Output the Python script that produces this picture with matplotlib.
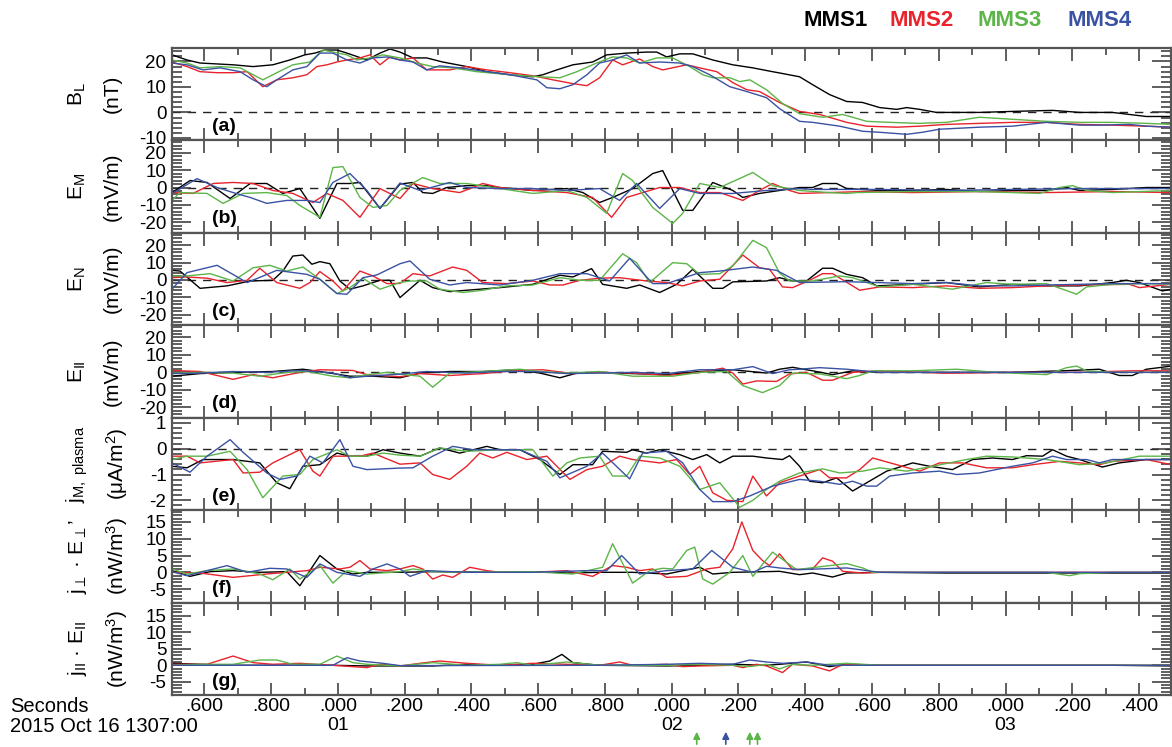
import matplotlib.pyplot as plt
import matplotlib.ticker as ticker
from matplotlib.transforms import blended_transform_factory

plt.rcParams['font.family'] = ['Liberation Sans', 'DejaVu Sans']
plt.rcParams['mathtext.fontset'] = 'custom'
plt.rcParams['mathtext.rm'] = 'Liberation Sans'
plt.rcParams['mathtext.it'] = 'Liberation Sans:italic'
plt.rcParams['mathtext.bf'] = 'Liberation Sans:bold'
plt.rcParams['axes.unicode_minus'] = False

#------------------------------------------------------------------------------
# SPACECRAFT
craft  = ['MMS1', 'MMS2', 'MMS3', 'MMS4']
colors = ['#000000', '#e8232b', '#5cb548', '#3a52a3']

#------------------------------------------------------------------------------
# OBSERVATIONS (time in seconds after 2015 Oct 16 13:07:00)

# (a) B_L (nT)
bl_t1 = [0.503, 0.548, 0.587, 0.686, 0.746, 0.805, 0.856, 0.901, 0.931, 0.961, 0.997, 1.027, 1.087, 1.126, 1.156, 1.186, 1.225, 1.266, 1.314, 1.386, 1.446, 1.515, 1.584, 1.614, 1.656, 1.704, 1.763, 1.805, 1.865, 1.925, 1.955, 1.985, 2.024, 2.063, 2.123, 2.183, 2.243, 2.302, 2.323, 2.383, 2.422, 2.473, 2.524, 2.572, 2.623, 2.674, 2.704, 2.743, 2.793, 2.922, 3.021, 3.141, 3.222, 3.320, 3.422, 3.497]
bl_v1 = [22.6, 20.6, 19.4, 18.7, 18.0, 18.7, 20.6, 22.6, 23.3, 24.5, 24.5, 23.3, 20.6, 23.3, 24.9, 23.7, 21.4, 21.4, 19.8, 18.0, 16.0, 14.8, 14.0, 14.8, 16.7, 18.7, 19.8, 22.6, 23.3, 23.7, 23.7, 21.8, 23.0, 23.0, 20.6, 18.7, 17.5, 16.0, 15.5, 14.0, 10.9, 7.0, 4.3, 3.9, 1.9, 1.2, 1.9, 1.2, 0.0, 0.0, 0.4, 0.8, 0.0, 0.0, -1.6, -1.6]
bl_t2 = [0.503, 0.548, 0.587, 0.638, 0.686, 0.728, 0.775, 0.817, 0.865, 0.907, 0.937, 0.967, 0.997, 1.027, 1.066, 1.096, 1.126, 1.156, 1.186, 1.225, 1.266, 1.335, 1.386, 1.446, 1.515, 1.584, 1.644, 1.704, 1.746, 1.784, 1.823, 1.853, 1.904, 1.943, 1.973, 2.045, 2.084, 2.135, 2.183, 2.225, 2.263, 2.323, 2.383, 2.443, 2.524, 2.584, 2.674, 2.743, 2.823, 2.922, 3.021, 3.123, 3.222, 3.320, 3.422, 3.497]
bl_v2 = [19.8, 18.0, 16.0, 15.6, 15.6, 16.0, 10.1, 12.8, 13.6, 14.8, 18.0, 18.7, 19.8, 20.6, 21.4, 22.6, 18.7, 21.8, 20.6, 21.4, 16.7, 16.7, 18.0, 16.7, 15.6, 14.4, 12.8, 11.3, 10.5, 13.6, 20.6, 18.7, 21.0, 18.0, 16.7, 18.7, 17.5, 16.0, 11.7, 8.9, 8.2, 3.9, 0.4, -0.8, -3.9, -5.4, -5.8, -5.4, -4.7, -4.3, -3.9, -3.9, -4.7, -5.0, -5.4, -5.8]
bl_t3 = [0.503, 0.548, 0.587, 0.647, 0.707, 0.775, 0.817, 0.865, 0.916, 0.955, 0.985, 1.027, 1.057, 1.096, 1.135, 1.186, 1.237, 1.284, 1.344, 1.416, 1.515, 1.605, 1.665, 1.716, 1.775, 1.823, 1.865, 1.904, 1.955, 2.003, 2.054, 2.093, 2.123, 2.174, 2.204, 2.234, 2.284, 2.332, 2.383, 2.452, 2.512, 2.542, 2.584, 2.653, 2.743, 2.823, 2.922, 3.021, 3.123, 3.222, 3.320, 3.422, 3.497]
bl_v3 = [20.6, 19.4, 17.5, 18.0, 17.5, 12.8, 15.6, 18.7, 19.8, 24.5, 23.7, 22.6, 20.6, 21.4, 22.6, 21.4, 19.4, 18.0, 17.5, 16.0, 14.8, 14.0, 13.6, 16.0, 19.4, 21.8, 21.4, 19.4, 21.4, 21.4, 18.0, 14.8, 13.6, 13.6, 12.1, 12.8, 8.9, 3.5, -0.5, -1.9, -0.8, -1.9, -3.5, -3.9, -4.3, -3.9, -1.9, -2.7, -3.5, -3.9, -3.9, -4.3, -4.7]
bl_t4 = [0.503, 0.548, 0.596, 0.647, 0.707, 0.746, 0.787, 0.817, 0.865, 0.907, 0.946, 0.985, 1.027, 1.066, 1.105, 1.147, 1.186, 1.225, 1.266, 1.305, 1.365, 1.446, 1.515, 1.596, 1.626, 1.665, 1.704, 1.746, 1.784, 1.823, 1.865, 1.904, 1.964, 2.024, 2.063, 2.114, 2.174, 2.225, 2.284, 2.323, 2.383, 2.422, 2.503, 2.572, 2.623, 2.704, 2.751, 2.802, 2.922, 3.021, 3.123, 3.222, 3.281, 3.371, 3.422, 3.497]
bl_v4 = [19.4, 18.7, 16.7, 17.5, 16.0, 12.8, 10.1, 12.8, 16.7, 18.0, 23.3, 23.3, 20.6, 19.4, 21.4, 21.8, 20.6, 19.8, 16.7, 18.3, 17.5, 16.0, 14.8, 12.8, 9.7, 9.3, 10.9, 14.8, 19.4, 20.6, 22.6, 19.4, 19.8, 19.4, 18.0, 14.8, 10.1, 8.2, 5.8, 1.5, -3.5, -3.9, -5.4, -7.4, -7.8, -8.6, -7.8, -6.6, -5.8, -5.4, -3.9, -5.0, -5.0, -4.7, -5.4, -5.8]

# (b) E_M (mV/m)
em_t1 = [0.503, 0.557, 0.608, 0.677, 0.737, 0.787, 0.835, 0.886, 0.946, 0.997, 1.036, 1.066, 1.126, 1.186, 1.225, 1.254, 1.284, 1.326, 1.386, 1.446, 1.485, 1.584, 1.686, 1.734, 1.784, 1.823, 1.883, 1.943, 1.973, 2.033, 2.063, 2.123, 2.183, 2.213, 2.263, 2.323, 2.383, 2.422, 2.452, 2.494, 2.524, 2.623, 2.722, 2.823, 2.922, 3.021, 3.123, 3.183, 3.222, 3.320, 3.422, 3.497]
em_v1 = [-2.9, 4.0, 2.9, -6.3, 2.3, 2.3, -3.4, -0.6, -17.7, 2.3, 2.3, 2.9, -12.0, 2.0, 2.9, -2.9, -3.4, 0.0, 1.1, 1.1, 0.0, -1.7, -0.6, -2.9, -8.6, -5.7, -0.6, 8.0, 9.7, -13.1, -13.1, 2.9, -1.7, -5.7, -3.4, -1.7, 0.0, 0.0, 2.3, 2.3, -0.6, -1.7, -1.7, -1.1, -2.3, -1.7, -1.7, 0.0, -1.7, -1.1, 0.0, 0.0]
em_t2 = [0.503, 0.566, 0.626, 0.686, 0.746, 0.805, 0.865, 0.925, 0.967, 1.015, 1.066, 1.126, 1.186, 1.225, 1.284, 1.365, 1.434, 1.485, 1.584, 1.686, 1.763, 1.820, 1.865, 1.913, 1.964, 2.024, 2.084, 2.144, 2.213, 2.263, 2.302, 2.353, 2.383, 2.473, 2.572, 2.722, 2.922, 3.123, 3.320, 3.497]
em_v2 = [-2.9, -3.4, 2.3, 2.9, 2.3, -1.7, -3.4, -8.6, -3.4, -7.4, -17.1, -0.6, -6.3, 2.3, -0.6, -2.9, 2.3, 0.0, -1.7, -2.9, -5.7, -17.1, -5.7, -2.9, 0.0, 0.0, -2.9, -2.9, -7.4, -1.7, 2.3, -1.7, -3.4, -2.9, -2.3, -2.9, -2.3, -2.9, -2.3, -2.9]
em_t3 = [0.503, 0.527, 0.608, 0.656, 0.716, 0.787, 0.847, 0.886, 0.946, 0.985, 1.015, 1.066, 1.105, 1.147, 1.186, 1.254, 1.305, 1.386, 1.485, 1.584, 1.686, 1.746, 1.805, 1.853, 1.883, 1.943, 2.003, 2.033, 2.084, 2.144, 2.243, 2.302, 2.383, 2.473, 2.524, 2.554, 2.722, 2.922, 3.102, 3.162, 3.201, 3.243, 3.320, 3.497]
em_v3 = [-7.4, -2.9, -3.4, -9.1, -3.4, -2.9, -4.6, -10.3, -17.1, 11.4, 12.0, -5.7, -11.4, -10.3, -1.7, 5.7, 2.3, 2.3, -0.6, -3.4, -1.7, -5.7, -14.8, 8.0, 4.0, -11.4, -20.6, -14.8, 2.3, 0.0, 8.6, 1.1, -1.7, -2.9, -3.4, -2.9, -2.3, -2.3, -3.4, 0.0, 1.1, -1.7, -2.9, -1.7]
em_t4 = [0.503, 0.578, 0.638, 0.686, 0.737, 0.787, 0.847, 0.907, 0.946, 0.985, 1.036, 1.087, 1.126, 1.186, 1.246, 1.335, 1.386, 1.485, 1.584, 1.686, 1.784, 1.844, 1.895, 1.964, 2.024, 2.084, 2.183, 2.284, 2.383, 2.422, 2.623, 2.823, 3.021, 3.222, 3.497]
em_v4 = [-3.4, 5.1, 0.0, -2.9, -5.7, -9.1, -7.4, -7.4, -8.6, 2.9, 8.0, -1.7, -12.0, 2.6, -1.7, 2.9, 0.0, -0.6, -0.6, -1.7, -0.6, -7.4, 2.3, -12.0, -0.6, -3.4, -3.4, -1.7, -0.6, -1.1, -1.1, -1.7, -1.1, -0.6, -0.6]

# (c) E_N (mV/m)
en_t1 = [0.503, 0.527, 0.587, 0.668, 0.737, 0.805, 0.835, 0.865, 0.895, 0.922, 0.946, 0.976, 1.006, 1.036, 1.075, 1.126, 1.156, 1.186, 1.246, 1.284, 1.335, 1.386, 1.485, 1.584, 1.665, 1.704, 1.760, 1.793, 1.865, 1.904, 1.964, 2.015, 2.063, 2.123, 2.153, 2.183, 2.284, 2.323, 2.362, 2.404, 2.452, 2.482, 2.524, 2.572, 2.614, 2.722, 2.823, 2.922, 3.021, 3.123, 3.222, 3.320, 3.362, 3.401, 3.470, 3.497]
en_v1 = [5.5, 5.1, -4.8, -3.4, -0.6, -0.2, 5.1, 13.7, 14.3, 9.0, 10.5, 9.3, -0.6, -5.3, -3.4, -0.2, -0.2, -10.1, -0.2, -4.4, -6.7, -5.9, -4.4, -2.5, 2.7, 1.7, 6.5, -2.5, -4.8, -2.9, -7.2, -2.5, 6.1, -4.8, -4.8, -1.1, -0.6, 1.3, -0.6, -0.6, 6.7, 6.7, 3.2, 1.3, -3.4, -2.5, -1.5, -4.0, -2.5, -3.4, -3.4, -1.5, -0.2, -1.5, -6.3, -5.3]
en_t2 = [0.503, 0.548, 0.608, 0.668, 0.728, 0.766, 0.817, 0.886, 0.916, 0.946, 0.985, 1.015, 1.066, 1.105, 1.147, 1.186, 1.225, 1.275, 1.344, 1.386, 1.434, 1.506, 1.584, 1.635, 1.674, 1.725, 1.784, 1.844, 1.925, 1.985, 2.033, 2.084, 2.144, 2.213, 2.263, 2.293, 2.332, 2.362, 2.413, 2.452, 2.482, 2.563, 2.623, 2.722, 2.823, 2.922, 3.021, 3.123, 3.222, 3.371, 3.401, 3.497]
en_v2 = [1.3, 1.7, 1.0, -1.5, -0.2, 6.7, -1.5, -4.8, -1.5, 4.8, -0.6, -6.3, 5.1, 2.3, -2.1, -2.0, 3.6, 2.3, 7.4, 5.5, -1.5, -2.1, -0.6, -2.9, -2.9, -0.2, 1.0, 1.3, -0.6, -1.5, -3.4, -0.6, 0.4, 14.3, 7.0, 6.1, -4.0, -4.4, -0.2, 3.6, 3.6, -5.9, -4.0, -4.4, -3.4, -4.8, -4.4, -3.4, -2.9, -2.5, -4.4, -2.5]
en_t3 = [0.503, 0.548, 0.617, 0.686, 0.746, 0.796, 0.847, 0.895, 0.946, 0.997, 1.036, 1.075, 1.126, 1.186, 1.216, 1.266, 1.305, 1.374, 1.434, 1.506, 1.584, 1.665, 1.725, 1.784, 1.853, 1.895, 1.934, 2.003, 2.045, 2.084, 2.144, 2.183, 2.243, 2.284, 2.323, 2.353, 2.422, 2.503, 2.542, 2.623, 2.722, 2.841, 2.943, 3.021, 3.123, 3.171, 3.213, 3.243, 3.320, 3.422, 3.497]
en_v3 = [2.3, 2.3, 3.6, -0.6, 7.0, 8.4, 5.1, 7.4, 0.4, -7.8, -4.4, 1.0, -5.3, -1.5, -0.6, -0.6, -5.3, -7.2, -5.9, -3.4, -2.9, 1.3, -0.2, -0.2, 15.0, 9.9, -1.5, 9.9, 9.3, 3.2, 3.6, 8.0, 22.7, 18.5, 4.0, -0.6, -0.6, 2.3, 1.3, -4.0, -2.5, -5.3, -1.5, -2.5, -2.1, -5.3, -8.2, -4.0, -2.5, -2.1, -2.5]
en_t4 = [0.503, 0.548, 0.638, 0.728, 0.817, 0.907, 0.946, 0.997, 1.027, 1.075, 1.117, 1.186, 1.216, 1.275, 1.335, 1.386, 1.485, 1.584, 1.665, 1.746, 1.814, 1.874, 1.943, 1.985, 2.084, 2.144, 2.243, 2.314, 2.383, 2.524, 2.722, 2.823, 2.922, 3.021, 3.123, 3.222, 3.320, 3.497]
en_v4 = [-5.3, 4.2, 8.4, -1.5, 5.5, 3.2, 0.4, -7.8, -8.2, 1.3, 2.9, 9.3, 10.9, 0.4, -2.9, -1.5, -2.9, -0.2, 3.6, 3.6, -0.6, 12.4, -2.1, -2.1, 4.2, 5.1, 7.4, 5.5, -1.5, -1.0, -2.1, -1.5, -3.4, -3.4, -2.9, -2.5, -2.1, -2.1]

# (d) E_par (mV/m)
ep_t1 = [0.503, 0.587, 0.686, 0.805, 0.895, 0.946, 1.036, 1.105, 1.186, 1.246, 1.335, 1.434, 1.536, 1.605, 1.665, 1.716, 1.784, 1.883, 1.985, 2.084, 2.183, 2.284, 2.323, 2.362, 2.422, 2.482, 2.542, 2.623, 2.823, 3.021, 3.171, 3.222, 3.281, 3.341, 3.380, 3.422, 3.497]
ep_v1 = [-2.2, -0.7, 0.0, 0.5, 1.8, 0.5, -2.2, -2.2, -3.1, -0.4, 0.5, 0.5, 1.5, -0.4, -3.1, -0.4, 0.0, -0.7, -1.3, 0.5, 1.5, -0.4, 1.8, 2.9, 0.9, -1.3, 0.9, 0.0, 0.0, 0.0, 0.9, 1.3, 1.8, -1.8, -1.8, 1.8, 3.6]
ep_t2 = [0.503, 0.587, 0.647, 0.686, 0.746, 0.805, 0.886, 0.946, 1.045, 1.087, 1.186, 1.246, 1.335, 1.434, 1.536, 1.614, 1.704, 1.784, 1.883, 1.985, 2.084, 2.153, 2.183, 2.213, 2.254, 2.314, 2.353, 2.404, 2.452, 2.482, 2.542, 2.623, 2.823, 3.021, 3.222, 3.380, 3.497]
ep_v2 = [1.1, 0.5, -2.2, -4.0, -1.3, -3.1, 0.0, 1.5, 1.1, -1.3, -2.5, -0.7, -1.8, -0.7, 1.1, 1.5, -0.7, 0.0, -0.4, -1.8, 0.0, 2.4, -0.4, -6.7, -4.9, -5.2, -0.9, 0.0, -4.5, -4.5, 0.0, 0.9, -0.5, 0.0, 0.0, 0.9, 0.9]
ep_t3 = [0.503, 0.587, 0.686, 0.766, 0.847, 0.907, 0.985, 1.036, 1.087, 1.147, 1.186, 1.246, 1.284, 1.335, 1.434, 1.545, 1.605, 1.686, 1.784, 1.883, 2.003, 2.084, 2.165, 2.213, 2.272, 2.323, 2.362, 2.443, 2.524, 2.563, 2.602, 2.722, 2.853, 2.973, 3.123, 3.183, 3.213, 3.243, 3.320, 3.497]
ep_v3 = [-0.4, 0.0, -0.4, -2.2, 0.0, 0.5, -2.2, -3.1, -1.3, 0.0, -1.0, -2.2, -8.5, -0.4, 0.5, 1.8, 0.5, -0.4, 0.5, -2.2, -2.2, 0.0, 0.5, -7.6, -11.6, -7.6, -0.4, -0.9, -3.6, -1.8, 0.9, 0.9, 1.8, 0.0, -1.3, 2.7, 3.6, 0.9, 0.0, 0.0]
ep_t4 = [0.503, 0.587, 0.686, 0.787, 0.886, 0.985, 1.036, 1.087, 1.186, 1.266, 1.386, 1.485, 1.584, 1.686, 1.784, 1.883, 1.985, 2.084, 2.183, 2.243, 2.302, 2.353, 2.383, 2.443, 2.524, 2.623, 2.823, 3.021, 3.222, 3.497]
ep_v4 = [-0.7, -0.4, 0.5, 0.0, 1.1, -0.4, -3.1, -2.2, -1.0, 0.5, -0.4, 0.5, 0.5, -0.7, -0.4, 0.0, -0.7, 1.5, 1.5, 3.3, -0.7, 1.5, 1.8, 2.7, 1.8, 0.0, 0.0, 0.0, 0.0, 0.0]

# (e) j_M,plasma (uA/m^2)
jm_t1 = [0.503, 0.548, 0.596, 0.686, 0.766, 0.817, 0.856, 0.895, 0.946, 0.997, 1.036, 1.087, 1.135, 1.186, 1.246, 1.305, 1.365, 1.446, 1.485, 1.545, 1.605, 1.665, 1.704, 1.763, 1.793, 1.865, 1.883, 1.925, 1.964, 2.024, 2.063, 2.105, 2.144, 2.183, 2.243, 2.284, 2.332, 2.353, 2.383, 2.413, 2.452, 2.494, 2.542, 2.584, 2.644, 2.722, 2.772, 2.841, 2.901, 2.961, 3.021, 3.063, 3.111, 3.141, 3.183, 3.222, 3.290, 3.341, 3.422, 3.497]
jm_v1 = [-0.68, -0.74, -0.42, -0.42, -0.55, -1.32, -1.55, -0.68, -0.62, -0.17, -0.29, -0.29, -0.04, -0.17, -0.29, 0.03, -0.17, 0.09, -0.04, -0.04, -0.42, -1.0, -0.62, -0.62, -0.10, -0.14, -0.04, -0.17, -0.04, -0.23, -0.42, -0.23, -0.55, -0.29, -0.29, -0.36, -0.42, -0.27, -0.68, -1.26, -1.32, -1.13, -1.64, -1.32, -0.87, -0.55, -0.68, -0.81, -0.42, -0.36, -0.42, -0.27, -0.29, -0.04, -0.29, -0.42, -0.71, -0.55, -0.42, -0.42]
jm_t2 = [0.503, 0.548, 0.587, 0.686, 0.716, 0.766, 0.805, 0.886, 0.925, 0.946, 0.985, 1.066, 1.105, 1.186, 1.246, 1.284, 1.335, 1.386, 1.425, 1.464, 1.506, 1.566, 1.626, 1.695, 1.746, 1.793, 1.844, 1.883, 1.964, 2.015, 2.054, 2.084, 2.123, 2.165, 2.213, 2.243, 2.284, 2.323, 2.383, 2.443, 2.473, 2.524, 2.563, 2.602, 2.674, 2.743, 2.802, 2.871, 2.943, 3.021, 3.081, 3.162, 3.222, 3.281, 3.320, 3.422, 3.497]
jm_v2 = [-0.29, -0.29, -0.55, -0.42, -0.94, -0.91, -0.55, -0.04, -0.87, -1.06, -0.29, -0.29, -0.17, -0.6, -0.55, -1.0, -1.19, -0.68, -0.17, -0.36, -0.14, -0.42, -0.29, -1.19, -0.81, -0.68, -0.29, -0.42, -0.55, -0.42, -1.0, -0.68, -1.71, -2.0, -2.05, -1.06, -1.83, -1.32, -1.06, -0.81, -1.13, -1.13, -0.81, -0.36, -0.62, -0.87, -0.55, -0.55, -0.74, -0.74, -0.62, -0.49, -0.55, -0.62, -0.49, -0.42, -0.62]
jm_t3 = [0.503, 0.548, 0.608, 0.677, 0.728, 0.775, 0.835, 0.886, 0.925, 0.997, 1.036, 1.087, 1.135, 1.186, 1.246, 1.305, 1.386, 1.485, 1.584, 1.644, 1.686, 1.725, 1.784, 1.823, 1.865, 1.904, 1.964, 2.024, 2.084, 2.144, 2.204, 2.243, 2.284, 2.323, 2.383, 2.452, 2.503, 2.572, 2.623, 2.704, 2.781, 2.883, 2.943, 3.021, 3.123, 3.222, 3.302, 3.401, 3.497]
jm_v3 = [-0.42, -0.29, -0.29, -0.10, -0.81, -1.9, -1.06, -1.0, -0.42, -0.04, -0.29, -0.29, -0.17, -0.25, -0.29, 0.03, -0.10, -0.04, -0.04, -1.06, -0.55, -0.36, -0.29, -1.06, -1.06, -0.29, -0.36, -0.68, -1.58, -1.32, -2.27, -2.0, -1.58, -1.26, -0.94, -0.78, -0.94, -0.87, -0.74, -0.87, -0.68, -0.42, -0.29, -0.32, -0.42, -0.62, -0.55, -0.29, -0.29]
jm_t4 = [0.503, 0.557, 0.608, 0.677, 0.716, 0.787, 0.826, 0.877, 0.916, 0.955, 1.006, 1.045, 1.087, 1.186, 1.225, 1.284, 1.344, 1.404, 1.464, 1.545, 1.626, 1.665, 1.746, 1.793, 1.874, 1.913, 1.985, 2.033, 2.084, 2.123, 2.183, 2.234, 2.302, 2.383, 2.443, 2.503, 2.542, 2.584, 2.614, 2.653, 2.722, 2.802, 2.853, 2.922, 3.021, 3.081, 3.141, 3.183, 3.243, 3.281, 3.320, 3.422, 3.497]
jm_v4 = [-0.55, -0.91, -0.29, 0.35, -0.14, -0.94, -1.19, -1.06, -0.29, -0.55, 0.35, -0.68, -0.81, -0.75, -0.74, -0.29, 0.09, -0.04, -0.04, -0.04, -0.49, -1.13, -0.68, -0.17, -1.17, -0.17, -0.10, -0.55, -1.58, -2.05, -2.05, -1.83, -1.45, -1.19, -1.26, -1.38, -1.26, -1.45, -1.45, -1.06, -0.94, -0.87, -1.0, -0.94, -0.68, -0.55, -0.29, -0.42, -0.42, -0.55, -0.42, -0.42, -0.42]

# (f) j_perp . E_perp' (nW/m^3)
jep_t1 = [0.503, 0.557, 0.617, 0.686, 0.766, 0.847, 0.886, 0.946, 0.997, 1.045, 1.087, 1.186, 1.284, 1.485, 1.605, 1.686, 1.784, 1.883, 1.985, 2.084, 2.123, 2.183, 2.284, 2.323, 2.383, 2.422, 2.482, 2.524, 2.623, 2.823, 3.021, 3.497]
jep_v1 = [0.5, -1.2, 0.2, 0.5, 0.0, 0.2, -4.0, 5.0, 1.0, -0.5, 0.0, 0.0, 0.2, 0.0, 0.2, -0.2, 0.0, 0.0, -0.5, 1.5, -0.5, 0.0, 0.2, 0.3, -0.7, -0.2, -1.4, -0.2, 0.0, -0.2, -0.2, -0.2]
jep_t2 = [0.503, 0.587, 0.686, 0.787, 0.847, 0.907, 0.946, 1.006, 1.036, 1.066, 1.096, 1.147, 1.186, 1.225, 1.254, 1.284, 1.314, 1.344, 1.395, 1.446, 1.485, 1.584, 1.686, 1.763, 1.823, 1.865, 1.904, 1.943, 1.985, 2.045, 2.105, 2.144, 2.183, 2.210, 2.243, 2.272, 2.293, 2.323, 2.362, 2.422, 2.452, 2.482, 2.512, 2.572, 2.623, 3.497]
jep_v2 = [0.0, -0.2, -1.5, -0.5, 0.0, 0.5, 1.5, 1.0, 1.5, 3.5, 1.0, 0.5, 1.0, 2.0, 1.0, -2.0, -0.8, -1.5, 1.5, 0.5, 0.0, 0.0, 0.5, -1.2, 2.0, 1.5, 0.5, 1.0, -1.5, -1.2, 1.0, 1.5, 7.0, 15.0, 6.5, 3.5, 2.0, 5.5, 0.8, 1.0, 4.3, 3.3, 0.3, -0.2, 0.0, 0.0]
jep_t3 = [0.503, 0.548, 0.608, 0.686, 0.766, 0.805, 0.856, 0.886, 0.946, 0.985, 1.027, 1.087, 1.186, 1.225, 1.284, 1.386, 1.584, 1.704, 1.793, 1.823, 1.883, 1.934, 1.973, 2.003, 2.045, 2.069, 2.093, 2.123, 2.174, 2.213, 2.243, 2.302, 2.344, 2.374, 2.473, 2.524, 2.572, 2.602, 2.722, 3.123, 3.192, 3.222, 3.320, 3.497]
jep_v3 = [1.0, -0.5, 0.5, 1.0, -0.5, -2.2, 1.0, -2.0, 2.0, -3.2, 0.5, -0.5, 0.2, 1.0, 0.2, 0.0, 0.2, -0.5, 1.5, 8.5, -3.2, 0.5, 1.2, 1.0, 6.5, 7.5, -2.0, -3.5, 0.0, 5.0, -1.2, 6.0, 3.0, 0.8, 2.0, 2.6, 1.3, 0.0, 0.0, 0.0, -1.0, -0.4, 0.0, 0.0]
jep_t4 = [0.503, 0.548, 0.608, 0.668, 0.728, 0.796, 0.847, 0.907, 0.946, 0.997, 1.066, 1.105, 1.147, 1.186, 1.216, 1.266, 1.386, 1.584, 1.746, 1.805, 1.850, 1.904, 1.985, 2.063, 2.120, 2.183, 2.243, 2.284, 2.323, 2.383, 2.524, 2.623, 3.497]
jep_v4 = [0.2, -1.0, 0.5, 2.0, 0.0, 1.2, 1.0, -1.5, 2.5, 0.0, -1.2, 1.0, 2.5, 1.0, -1.2, 0.5, 0.0, 0.0, 0.5, 0.5, 5.0, -0.5, 0.5, 1.0, 6.5, 1.5, 0.0, 1.8, 1.3, 0.8, 1.3, 0.0, 0.0]

# (g) j_par . E_par (nW/m^3)
jeb_t1 = [0.503, 0.587, 0.686, 0.985, 1.087, 1.186, 1.284, 1.386, 1.485, 1.584, 1.635, 1.671, 1.704, 1.784, 1.985, 2.084, 2.183, 2.284, 2.323, 2.404, 2.473, 2.524, 2.623, 3.320, 3.497]
jeb_v1 = [0.6, 0.3, 0.0, 0.0, -0.2, -0.2, -0.2, 0.3, 0.0, 0.3, 1.3, 3.3, 0.8, 0.0, -0.2, 0.0, 0.3, 0.0, 0.3, 1.0, -0.4, 0.3, 0.0, 0.0, -0.2]
jeb_t2 = [0.503, 0.608, 0.686, 0.746, 0.805, 0.886, 0.985, 1.087, 1.126, 1.186, 1.246, 1.305, 1.386, 1.485, 1.584, 1.686, 1.784, 1.844, 1.883, 1.985, 2.033, 2.084, 2.183, 2.213, 2.254, 2.284, 2.332, 2.362, 2.422, 2.473, 2.503, 2.524, 2.623, 3.497]
jeb_v2 = [0.3, 0.3, 2.8, 0.8, 0.3, 0.6, 0.0, -0.7, 0.3, -0.2, 0.6, 1.3, 0.6, 0.0, 0.6, 0.3, 0.0, 1.0, 0.0, 0.3, -0.4, -0.2, 0.0, -0.7, 0.3, -0.2, -2.2, 0.3, -0.2, -1.7, -0.2, 0.3, 0.0, 0.0]
jeb_t3 = [0.503, 0.587, 0.686, 0.766, 0.817, 0.865, 0.946, 0.997, 1.045, 1.087, 1.186, 1.284, 1.386, 1.485, 1.536, 1.584, 1.686, 1.784, 1.985, 2.084, 2.183, 2.234, 2.284, 2.323, 2.362, 2.422, 2.524, 2.623, 3.497]
jeb_v3 = [0.0, 0.3, 0.3, 1.6, 1.6, 0.3, 0.3, 2.8, 0.8, 0.3, -0.2, 0.8, 0.0, 0.3, 0.8, 0.0, 1.0, 0.0, 0.0, 0.3, 0.0, -0.4, 0.3, -1.1, 0.3, 0.0, 0.6, 0.0, 0.0]
jeb_t4 = [0.503, 0.985, 1.027, 1.066, 1.135, 1.186, 1.784, 1.985, 2.084, 2.183, 2.234, 2.284, 2.332, 2.404, 2.473, 2.623, 3.497]
jeb_v4 = [0.0, 0.0, 2.3, 1.3, 0.6, -0.1, 0.0, 0.3, 0.6, 0.3, 1.6, 1.0, 0.6, 1.0, 0.0, 0.0, 0.0]

# arrows under the time axis
arrow_t = [2.075, 2.162, 2.234, 2.257]
arrow_c = [colors[2], colors[3], colors[2], colors[2]]

#------------------------------------------------------------------------------
# PANEL SET-UP: (quantity, unit, tag, ylim, major ticks, minor step, zero line, series)
panels = [
    ('B$_\\mathrm{L}$', '(nT)', '(a)', (-11, 25.3), [-10, 0, 10, 20], 2, True,
     [(bl_t1, bl_v1), (bl_t2, bl_v2), (bl_t3, bl_v3), (bl_t4, bl_v4)]),
    ('E$_\\mathrm{M}$', '(mV/m)', '(b)', (-26, 27), [-20, -10, 0, 10, 20], 2, True,
     [(em_t1, em_v1), (em_t2, em_v2), (em_t3, em_v3), (em_t4, em_v4)]),
    ('E$_\\mathrm{N}$', '(mV/m)', '(c)', (-26, 27), [-20, -10, 0, 10, 20], 2, True,
     [(en_t1, en_v1), (en_t2, en_v2), (en_t3, en_v3), (en_t4, en_v4)]),
    ('E$_\\mathrm{II}$', '(mV/m)', '(d)', (-26, 27), [-20, -10, 0, 10, 20], 2, True,
     [(ep_t1, ep_v1), (ep_t2, ep_v2), (ep_t3, ep_v3), (ep_t4, ep_v4)]),
    ('j$_\\mathrm{M,\\ plasma}$', '(\u03bcA/m$^2$)', '(e)', (-2.38, 1.2), [-2, -1, 0, 1], 0.2, True,
     [(jm_t1, jm_v1), (jm_t2, jm_v2), (jm_t3, jm_v3), (jm_t4, jm_v4)]),
    ('j$_\\perp$ \u00b7 E$_\\perp$\u2019', '(nW/m$^3$)', '(f)', (-9, 18.5), [-5, 0, 5, 10, 15], 1, False,
     [(jep_t1, jep_v1), (jep_t2, jep_v2), (jep_t3, jep_v3), (jep_t4, jep_v4)]),
    ('j$_\\mathrm{II}$ \u00b7 E$_\\mathrm{II}$', '(nW/m$^3$)', '(g)', (-9, 19), [-5, 0, 5, 10, 15], 1, False,
     [(jeb_t1, jeb_v1), (jeb_t2, jeb_v2), (jeb_t3, jeb_v3), (jeb_t4, jeb_v4)]),
]

#------------------------------------------------------------------------------
# PLOT THE GRAPH
fig = plt.figure(figsize=(11.72, 7.47), dpi=100)
axes = fig.subplots(len(panels), 1, sharex=True)
fig.subplots_adjust(left=172/1172, right=0.9995, top=1-48/747, bottom=1-695/747, hspace=0)

def sec_label(t, pos):
    ms = int(round(t * 1000)) % 1000
    return '.%03d' % ms

for ax, (qty, unit, tag, ylim, yt, ymin, zero, series) in zip(axes, panels):
    if zero:
        ax.axhline(0, color='#222222', lw=1.0, ls=(0, (6, 5)), zorder=1)
    for (t, v), c in zip(series, colors):
        ax.plot(t, v, color=c, lw=1.0, zorder=2)

    ax.set_xlim(0.503, 3.497)
    ax.set_ylim(*ylim)
    ax.set_yticks(yt)
    ax.yaxis.set_minor_locator(ticker.MultipleLocator(ymin))
    ax.xaxis.set_major_locator(ticker.MultipleLocator(0.2))
    ax.xaxis.set_minor_locator(ticker.MultipleLocator(0.1))
    ax.xaxis.set_major_formatter(ticker.FuncFormatter(sec_label))

    ax.tick_params(which='both', direction='in', top=True, right=True, color='#333333', width=1.1)
    ax.tick_params(axis='x', which='major', length=9, labelsize=14, pad=2)
    ax.tick_params(axis='x', which='minor', length=5)
    ax.tick_params(axis='y', which='major', length=14, labelsize=13.5, pad=4)
    ax.tick_params(axis='y', which='minor', length=7)
    for sp in ax.spines.values():
        sp.set_linewidth(1.6)
        sp.set_color('#555555')

    ax.text(0.04, 0.15, tag, transform=ax.transAxes, fontsize=14, fontweight='bold',
            ha='left', va='center')

    # two-column axis label
    pos = ax.get_position()
    yc = 0.5 * (pos.y0 + pos.y1)
    ux = 0.1 if tag in ('(e)', '(f)', '(g)') else 0.0956
    fig.text(0.066, yc, qty, rotation=90, fontsize=15, ha='center', va='center')
    fig.text(ux, yc, unit, rotation=90, fontsize=15, ha='center', va='center')

# whole-second labels under the .000 ticks
bottom = axes[-1]
trans = blended_transform_factory(bottom.transData, fig.transFigure)
for sec in [1, 2, 3]:
    bottom.text(sec, 1 - 726/747, '%02d' % sec, transform=trans, fontsize=14,
                ha='center', va='center')

# markers for the crossing times
for t, c in zip(arrow_t, arrow_c):
    bottom.annotate('', xy=(t, 1 - 729/747), xytext=(t, 0.0), xycoords=trans, textcoords=trans,
                    arrowprops=dict(arrowstyle='-|>', color=c, lw=1.2, mutation_scale=10),
                    annotation_clip=False)

fig.text(10/1172, 1 - 707/747, 'Seconds', fontsize=14.5, ha='left', va='center')
fig.text(10/1172, 1 - 726/747, '2015 Oct 16 1307:00', fontsize=14.5, ha='left', va='center')

# spacecraft legend
for name, c, x in zip(craft, colors, [836, 922, 1010, 1100]):
    fig.text(x/1172, 1 - 20/747, name, color=c, fontsize=16, fontweight='bold',
             ha='center', va='center')

fig.savefig('out.png', dpi=100)
